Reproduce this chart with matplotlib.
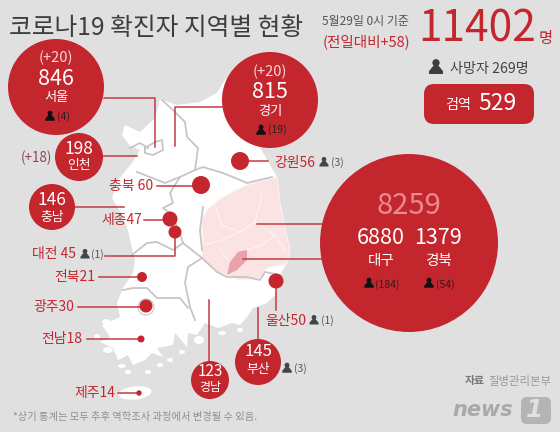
import matplotlib
matplotlib.use('Agg')
import matplotlib.pyplot as plt
from matplotlib.patches import Circle, Ellipse, FancyBboxPatch, Polygon

plt.rcParams['font.family'] = ['Noto Sans CJK KR', 'DejaVu Sans']

RED = '#c4262e'
DARK = '#3d3d3d'
BG = '#e0e0e1'
BORDER = '#c6c6c6'

# data
regions = ['서울', '경기', '인천', '충남', '강원', '충북', '세종', '대전', '전북', '광주', '전남', '제주', '경남', '부산', '울산']
cases = [846, 815, 198, 146, 56, 60, 47, 45, 21, 30, 18, 14, 123, 145, 50]
new_cases = {'서울': 20, '경기': 20, '인천': 18}
deaths = {'서울': 4, '경기': 19, '강원': 3, '대전': 1, '울산': 1, '부산': 3}
daegu_cases, gyeongbuk_cases = 6880, 1379
daegu_deaths, gyeongbuk_deaths = 184, 54
total_cases, total_new, total_deaths, quarantine = 11402, 58, 269, 529

# layout in pixels: centre x, centre y, radius
circles = {
    '서울': (56, 87, 48), '경기': (270, 100, 48), '인천': (79, 157, 24), '충남': (52, 207, 23),
    '강원': (240, 161, 9), '충북': (201, 185, 9), '세종': (170, 219, 7.5), '대전': (175, 232, 6.5),
    '전북': (142, 277, 5), '광주': (146, 306, 6.5), '전남': (141, 339, 3.5), '제주': (139, 393, 2.7),
    '경남': (210, 380, 19), '부산': (258, 362, 23), '울산': (276, 281, 7.5),
}
leaders = [
    [(104, 98), (155, 98), (155, 147)], [(222, 107), (175, 107), (175, 146)],
    [(103, 156), (137, 156)], [(75, 207), (124, 207)], [(249, 161), (268, 161)],
    [(157, 186), (195, 186)], [(144, 220), (165, 220)], [(105, 256), (175, 256), (175, 235)],
    [(99, 277), (140, 277)], [(78, 307), (143, 307)], [(87, 339), (139, 339)],
    [(118, 393), (137, 393)], [(209, 300), (209, 362)], [(258, 308), (258, 345)],
    [(276, 285), (276, 310)], [(257, 224), (322, 224)], [(243, 259), (322, 259)],
]

# traced map shapes
mainland = [
    (160, 99), (177, 105), (200, 102), (217, 93), (226, 78), (250, 130), (277, 177), (280, 203),
    (287, 237), (290, 250), (287, 263), (280, 275), (275, 295), (267, 303), (253, 308), (247, 317),
    (240, 325), (232, 323), (218, 328), (205, 323), (197, 335), (188, 333), (187, 347), (175, 333),
    (173, 345), (157, 348), (163, 357), (152, 353), (145, 360), (133, 365), (128, 355), (118, 360),
    (113, 348), (100, 342), (110, 337), (102, 325), (120, 317), (117, 303), (123, 288),
    (133, 273), (135, 260), (130, 240), (128, 230), (122, 215), (112, 198), (118, 180), (132, 163),
    (140, 150), (130, 146), (122, 135), (125, 125), (140, 132), (155, 118),
]
gyeongbuk = [
    (202, 220), (207, 210), (223, 197), (247, 185), (277, 177), (280, 203), (287, 237), (290, 250),
    (287, 263), (267, 268), (260, 278), (240, 280), (227, 275), (217, 272), (202, 258), (203, 240),
]
daegu = [(227, 275), (230, 262), (238, 252), (247, 250), (247, 260), (237, 270)]
pink_lines = [
    [(215, 205), (222, 225), (240, 232), (255, 222), (262, 195)],
    [(205, 245), (222, 240), (240, 232)], [(255, 222), (275, 235), (285, 250)],
    [(247, 250), (262, 245), (275, 235)], [(230, 262), (220, 250)],
]
inner_borders = [
    [(162, 100), (175, 112), (185, 122), (187, 137), (198, 148), (195, 170)],
    [(195, 170), (203, 167), (223, 173), (240, 180), (247, 183), (272, 177)],
    [(195, 170), (180, 177), (170, 193), (173, 203), (163, 208), (170, 213), (178, 228), (183, 243)],
    [(137, 172), (165, 183), (180, 177)],
    [(145, 148), (155, 142), (162, 140), (163, 150), (153, 155), (145, 153), (145, 148)],
    [(130, 148), (140, 143), (148, 148)],
    [(132, 255), (147, 243), (157, 242), (173, 250), (183, 243), (202, 258)],
    [(202, 258), (188, 267), (185, 283), (190, 307), (195, 320)],
    [(123, 290), (133, 288), (147, 288), (157, 298), (180, 298), (188, 308)],
    [(203, 207), (200, 230), (202, 250)],
    [(202, 258), (217, 272), (227, 277), (247, 277), (260, 280), (265, 272), (280, 275)],
]
islands = [(108, 350, 5, 3), (97, 337, 3, 3), (128, 372, 3, 2), (148, 372, 3, 2), (222, 333, 4, 2),
           (240, 330, 3, 2), (199, 340, 5, 4), (170, 360, 3, 2), (122, 366, 4, 2), (106, 322, 4, 3),
           (160, 365, 3, 2), (182, 352, 3, 2)]

fig = plt.figure(figsize=(5.6, 4.32), dpi=100, facecolor=BG)
ax = fig.add_axes([0, 0, 1, 1])
ax.set_xlim(0, 560)
ax.set_ylim(432, 0)
ax.axis('off')


def label(x, y, s, size, color=RED, ha='center', weight='normal', z=6):
    ax.text(x, y, s, fontsize=size, color=color, ha=ha, va='center', fontweight=weight, zorder=z)


def person(x, y, s=1.0, color='#111111'):
    # small bust icon, x/y is its middle
    ax.add_patch(Circle((x, y - 3 * s), 2.6 * s, fc=color, ec='none', zorder=6))
    ax.add_patch(Polygon([(x - 1.8 * s, y - 1 * s), (x + 1.8 * s, y - 1 * s), (x + 5 * s, y + 3 * s),
                          (x + 5 * s, y + 5 * s), (x - 5 * s, y + 5 * s), (x - 5 * s, y + 3 * s)],
                         fc=color, ec='none', zorder=6))


# map
ax.add_patch(Polygon(mainland, fc='white', ec='none', zorder=1))
for ix, iy, w, h in islands:
    ax.add_patch(Ellipse((ix, iy), w * 2, h * 2, fc='white', ec='none', zorder=1))
ax.add_patch(Ellipse((135, 393), 33, 13, angle=-6, fc='white', ec='none', zorder=1))
ax.add_patch(Polygon(gyeongbuk, fc='#fbe3e4', ec='#fdf0f0', lw=0.8, zorder=2))
ax.add_patch(Polygon(daegu, fc='#e9a3a8', ec='none', zorder=3))
for line in pink_lines:
    ax.plot(*zip(*line), color='#fff3f3', lw=0.8, zorder=2)
for line in inner_borders:
    ax.plot(*zip(*line), color=BORDER, lw=1.3, zorder=2, solid_joinstyle='round')
ax.add_patch(Circle((146, 307), 8, fc='white', ec=BORDER, lw=0.8, zorder=2))

for line in leaders:
    ax.plot(*zip(*line), color='#c53a42', lw=1.1, zorder=4)
for name in regions:
    cx, cy, r = circles[name]
    ax.add_patch(Circle((cx, cy), r, fc=RED, ec='none', zorder=5))
ax.add_patch(Circle((409, 243), 89, fc=RED, ec='none', zorder=5))

# header
label(9, 28, '코로나19 확진자 지역별 현황', 17.8, color=DARK, ha='left')
label(322, 22, '5월29일 0시 기준', 8.6, color='#555555', ha='left')
label(323, 42, f'(전일대비+{total_new})', 10.5, ha='left')
label(418, 29, str(total_cases), 30.5, ha='left')
label(546, 38, '명', 11)
person(436, 67, 1.4, DARK)
label(450, 69, f'사망자 {total_deaths}명', 10.2, color='#444444', ha='left')
ax.add_patch(FancyBboxPatch((424, 84), 110, 40, boxstyle='round,pad=0,rounding_size=10', fc=RED, ec='none', zorder=4))
label(458, 105, '검역', 10.2, color='white')
label(478, 103, str(quarantine), 16.5, color='white', ha='left')

# big bubbles
value = dict(zip(regions, cases))
label(56, 58, f"(+{new_cases['서울']})", 10.5, color='#f5d5d6')
label(56, 79, str(value['서울']), 15.5, color='white')
label(56, 97, '서울', 9.5, color='white')
person(50, 116, 0.95)
label(63, 117, f"({deaths['서울']})", 7.5, color='#222222')

label(270, 72, f"(+{new_cases['경기']})", 10.5, color='#f5d5d6')
label(270, 92, str(value['경기']), 15.5, color='white')
label(270, 111, '경기', 9.5, color='white')
person(261, 130, 0.95)
label(277, 130, f"({deaths['경기']})", 7.5, color='#222222')

label(36, 158, f"(+{new_cases['인천']})", 9.7, color='#8a4a50')
label(79, 149, str(value['인천']), 12.5, color='white')
label(79, 166, '인천', 9.2, color='white')
label(52, 200, str(value['충남']), 12.5, color='white')
label(52, 217, '충남', 9.2, color='white')
label(210, 372, str(value['경남']), 11, color='white')
label(210, 388, '경남', 8.6, color='white')
label(258, 352, str(value['부산']), 12, color='white')
label(258, 370, '부산', 9.2, color='white')
person(287, 368, 0.95, '#444444')
label(300, 369, f"({deaths['부산']})", 7.5, color='#555555')

# group bubble
label(409, 206, str(daegu_cases + gyeongbuk_cases), 21, color='#e88c90')
label(381, 238, str(daegu_cases), 15.5, color='white')
label(438, 238, str(gyeongbuk_cases), 15.5, color='white')
label(381, 261, '대구', 10.5, color='white')
label(439, 261, '경북', 10.5, color='white')
person(369, 283, 0.95)
label(387, 285, f'({daegu_deaths})', 7.5, color='#222222')
person(429, 283, 0.95)
label(445, 285, f'({gyeongbuk_deaths})', 7.5, color='#222222')

# side labels
label(315, 163, f"강원{value['강원']}", 10, ha='right')
person(324, 162, 0.9, '#444444')
label(331, 163, f"({deaths['강원']})", 7.5, color='#555555', ha='left')
label(153, 186, f"충북 {value['충북']}", 10, ha='right')
label(142, 220, f"세종{value['세종']}", 10, ha='right')
label(76, 254, f"대전 {value['대전']}", 10, ha='right')
person(85, 254, 0.9, '#444444')
label(91, 255, f"({deaths['대전']})", 7.5, color='#555555', ha='left')
label(95, 277, f"전북{value['전북']}", 10, ha='right')
label(74, 307, f"광주{value['광주']}", 10, ha='right')
label(82, 339, f"전남{value['전남']}", 10, ha='right')
label(115, 393, f"제주{value['제주']}", 10, ha='right')
label(306, 321, f"울산{value['울산']}", 10, ha='right')
person(314, 320, 0.9, '#444444')
label(321, 321, f"({deaths['울산']})", 7.5, color='#555555', ha='left')

# footer
label(13, 417, '*상기 통계는 모두 추후 역학조사 과정에서 변경될 수 있음.', 7.4, color='#8f8f8f', ha='left', z=7)
label(465, 381, '자료', 7.8, color='#777777', ha='left', weight='bold')
label(488, 381, '질병관리본부', 8.2, color='#999999', ha='left')
ax.text(452, 410, 'news', fontsize=15, color='#a9a9a9', family='DejaVu Sans', fontweight='bold',
        fontstyle='italic', va='center', ha='left', zorder=6)
ax.add_patch(FancyBboxPatch((521, 397), 30, 27, boxstyle='round,pad=0,rounding_size=6', fc='#b4b4b4', ec='none', zorder=5))
ax.text(535, 410, '1', fontsize=18, color=BG, family='DejaVu Sans', fontweight='bold', fontstyle='italic',
        va='center', ha='center', zorder=6)

fig.savefig('out.png', dpi=100, facecolor=BG)
